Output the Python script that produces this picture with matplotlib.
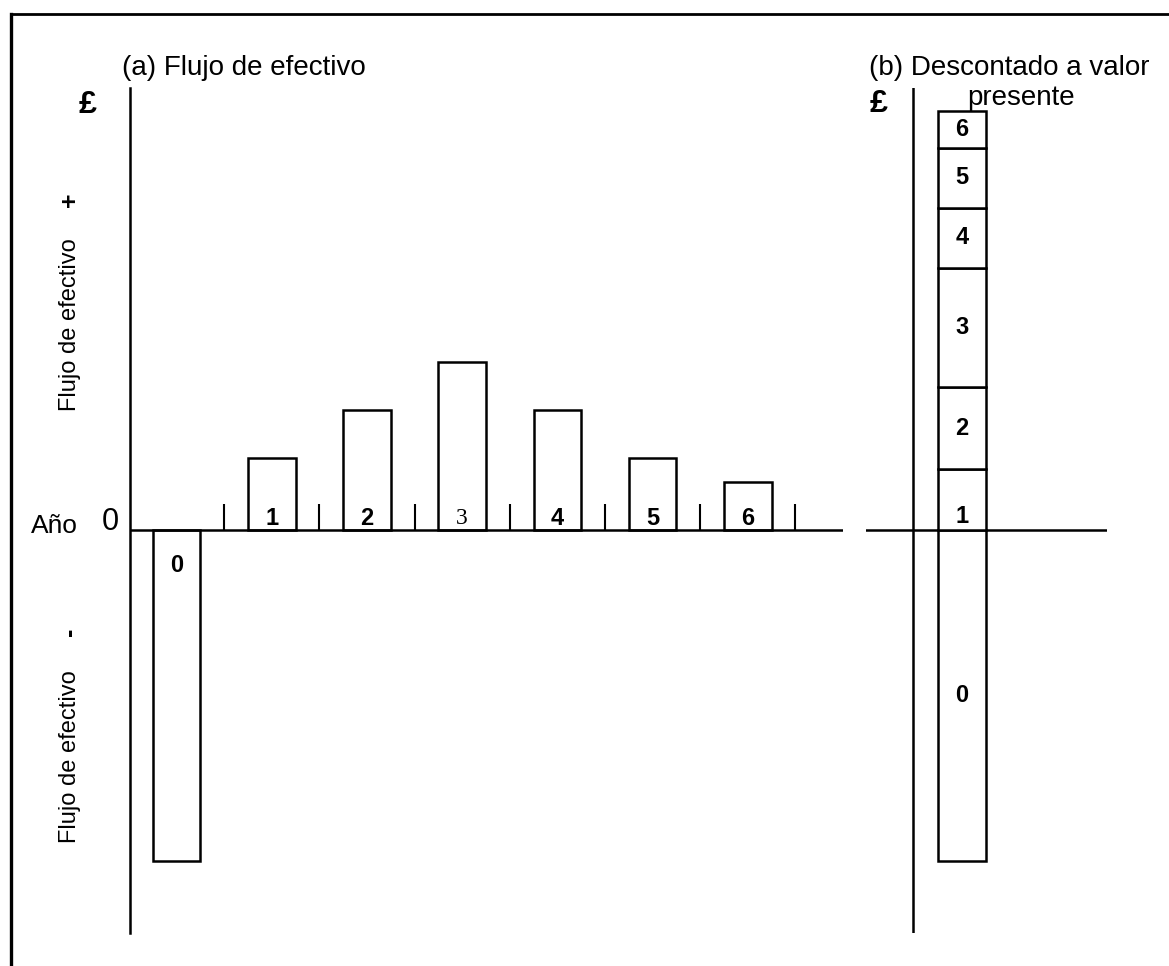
import numpy as np
import matplotlib.pyplot as plt
from matplotlib.lines import Line2D

plt.rcParams['font.family'] = ['Liberation Sans', 'DejaVu Sans']

# data (units)
anios = [0, 1, 2, 3, 4, 5, 6]
flujo = [-13.8, 3.0, 5.0, 7.0, 5.0, 3.0, 2.0]
descontado = [-13.8, 2.54, 3.42, 4.96, 2.5, 2.5, 1.54]
etiquetas = ['0', '1', '2', '3', '4', '5', '6']

W, H = 1169, 966
fig = plt.figure(figsize=(W / 100, H / 100), dpi=100)


def rect(x0, y0, x1, y1):
    # pixel box -> figure fraction
    return [x0 / W, 1 - y1 / H, (x1 - x0) / W, (y1 - y0) / H]


ylo, yhi = -16.79, 18.42
lw = 1.8

# (a) cash flow per year
ax = fig.add_axes(rect(130, 88, 843, 933))
ax.set_xlim(-0.49, 7.0)
ax.set_ylim(ylo, yhi)
for s in ['top', 'right', 'bottom']:
    ax.spines[s].set_visible(False)
ax.spines['left'].set_linewidth(lw)
ax.set_xticks([])
ax.set_yticks([])
ax.patch.set_alpha(0)

ax.bar(anios, flujo, width=0.5, facecolor='white', edgecolor='black', linewidth=lw, zorder=2)
ax.axhline(0, color='black', lw=lw, zorder=3)
ax.vlines(np.array(anios) + 0.5, 0, 1.08, color='black', lw=1.5)
for i, v in enumerate(flujo):
    y = 0.5 if v > 0 else -1.46
    if etiquetas[i] == '3':
        ax.text(anios[i], y, etiquetas[i], ha='center', va='center', fontsize=17,
                family=['Liberation Serif'])
    else:
        ax.text(anios[i], y, etiquetas[i], ha='center', va='center', fontsize=17,
                fontweight='bold')

# (b) discounted to present value, stacked
bx = fig.add_axes(rect(866, 88, 1107, 933))
bx.set_xlim(-2.0, 3.02)
bx.set_ylim(ylo, yhi)
bx.axis('off')
bx.axvline(-1.02, ymin=0, ymax=1, color='black', lw=lw)
bx.axhline(0, color='black', lw=lw)
base = 0.0
for i, v in enumerate(descontado):
    b = 0.0 if v < 0 else base
    bx.bar(0, v, bottom=b, width=1.0, facecolor='white', edgecolor='black', linewidth=lw, zorder=2)
    if i == 1:
        ly = 0.55
    else:
        ly = b + v / 2
    bx.text(0, ly, etiquetas[i], ha='center', va='center', fontsize=17, fontweight='bold', zorder=3)
    if v > 0:
        base += v

# texts
fig.text(122 / W, 1 - 68 / H, '(a) Flujo de efectivo', fontsize=20, va='center', ha='left')
fig.text(1009 / W, 1 - 68 / H, '(b) Descontado a valor', fontsize=20, va='center', ha='center')
fig.text(1021 / W, 1 - 98 / H, 'presente', fontsize=20, va='center', ha='center')
fig.text(88 / W, 1 - 105 / H, '£', fontsize=23, fontweight='bold', va='center', ha='center')
fig.text(879 / W, 1 - 104 / H, '£', fontsize=23, fontweight='bold', va='center', ha='center')
fig.text(54 / W, 1 - 526 / H, 'Año', fontsize=19, va='center', ha='center')
fig.text(110 / W, 1 - 522 / H, '0', fontsize=22, va='center', ha='center')
fig.text(70 / W, 1 - 325 / H, 'Flujo de efectivo', fontsize=17, rotation=90, va='center', ha='center')
fig.text(70 / W, 1 - 200 / H, '+', fontsize=18, fontweight='bold', rotation=90, va='center', ha='center')
fig.text(70 / W, 1 - 757 / H, 'Flujo de efectivo', fontsize=17, rotation=90, va='center', ha='center')
fig.text(70 / W, 1 - 632 / H, '-', fontsize=18, fontweight='bold', rotation=90, va='center', ha='center')

# page frame
fig.add_artist(Line2D([11 / W, 11 / W], [0, 1 - 14 / H], color='black', lw=2.4))
fig.add_artist(Line2D([11 / W, 1], [1 - 14 / H, 1 - 14 / H], color='black', lw=2.0))

fig.savefig('out.png', dpi=100)
